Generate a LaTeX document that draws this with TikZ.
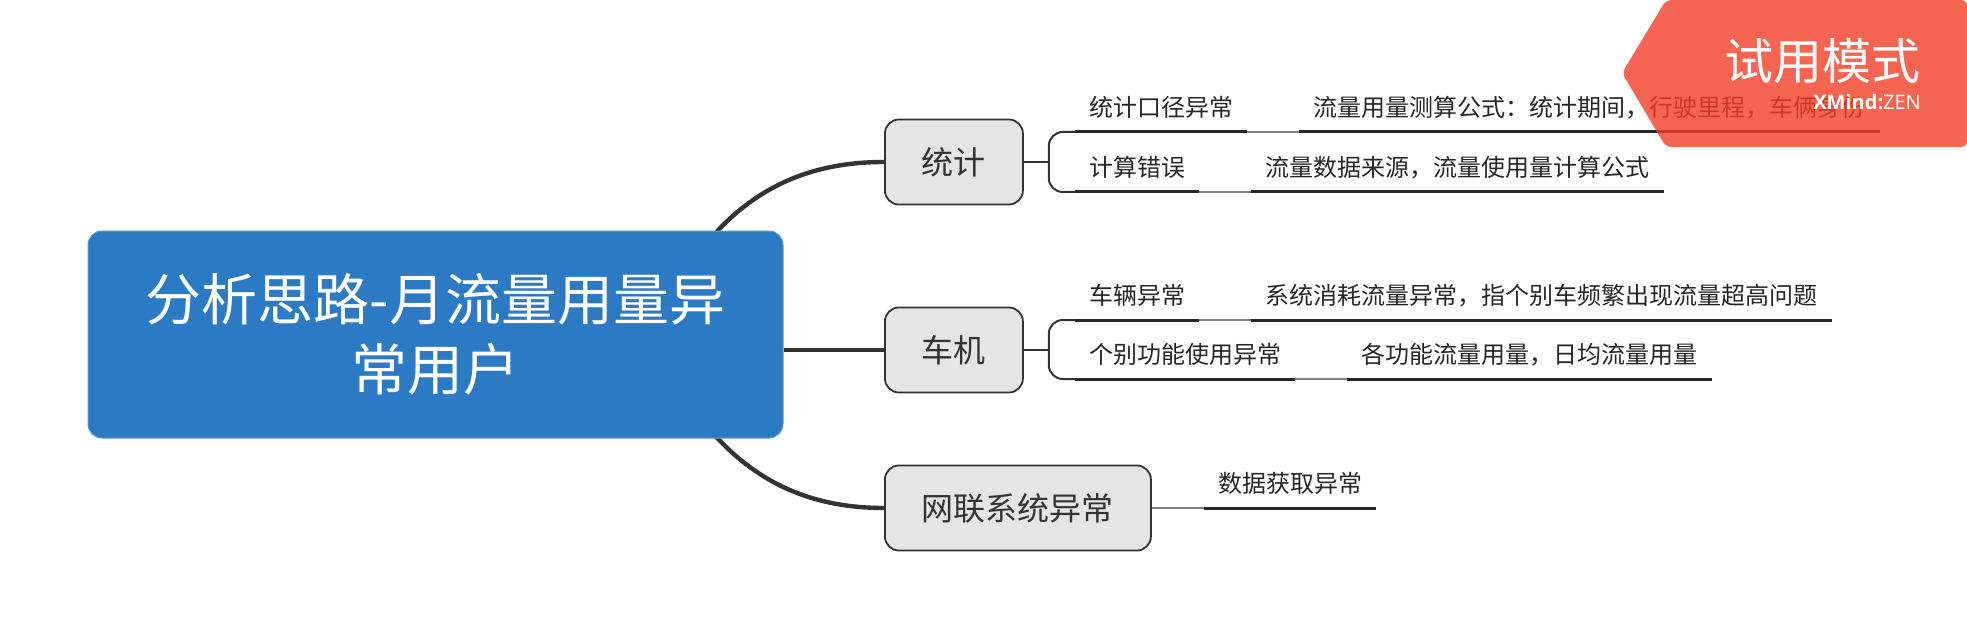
\documentclass[tikz,border=0pt]{standalone}
\usepackage{fontspec}
\setmainfont{Noto Sans CJK SC}
\newfontfamily\badgefont{Open Sans}
\usepackage{xcolor}
\usetikzlibrary{positioning,backgrounds}
\definecolor{rootblue}{HTML}{2C7AC3}
\definecolor{inkdark}{HTML}{333333}
\definecolor{badgered}{HTML}{F33F25}

\begin{document}
\begin{tikzpicture}[
  x=1pt, y=-1pt,
  node distance=52pt and 52pt,
  root/.style={draw=rootblue!75!white, line width=1pt, fill=rootblue, rounded corners=14pt, align=center, minimum width=695pt, minimum height=207pt, font=\fontsize{56}{70}\selectfont, text=white},
  branch/.style={draw=inkdark, line width=1.8pt, fill=gray!20, rounded corners=14pt, minimum height=85pt, inner xsep=37pt, font=\fontsize{32}{38}\selectfont, text=inkdark},
  topic/.style={anchor=south west, inner xsep=14pt, inner ysep=10.5pt, text height=19pt, text depth=5pt, font=\fontsize{24}{28}\selectfont, text=black!85},
  under/.style={line width=3pt, color=black!85},
  thin link/.style={line width=2pt, color=inkdark},
  gap/.style={line width=2pt, color=gray},
  limb/.style={line width=4.4pt, color=inkdark}]
\useasboundingbox (0,0) rectangle (1967,639);
\node[root] (analysis) at (435.5,334.5) {分析思路-月流量用量异\\常用户};
\node[branch, anchor=west] (stats) at (884,162) {统计};
\node[branch, anchor=west] (car) at (884,350) {车机};
\node[branch, anchor=west] (network) at (884,508) {网联系统异常};
\begin{scope}[on background layer]
\draw[limb] (692,262) .. controls (740,195) and (800,162) .. (stats.west);
\draw[limb] (analysis.east |- car.west) -- (car.west);
\draw[limb] (692,407) .. controls (740,474) and (800,508) .. (network.west);
\end{scope}
% first branch
\node[topic] (caliber) at (1075,132) {统计口径异常};
\node[topic, right=52pt of caliber.south east, anchor=south west] (formula) {流量用量测算公式：统计期间，行驶里程，车俩身份};
\node[topic] (mistake) at (1075,192) {计算错误};
\node[topic, right=52pt of mistake.south east, anchor=south west] (source) {流量数据来源，流量使用量计算公式};
\coordinate[right=25pt of stats] (statsfork);
\draw[thin link] (stats) -- (statsfork);
\draw[thin link, rounded corners=14pt] (caliber.south west) -| (statsfork) |- (mistake.south west);
% second branch
\node[topic] (vehicle) at (1075,320) {车辆异常};
\node[topic, right=52pt of vehicle.south east, anchor=south west] (drain) {系统消耗流量异常，指个别车频繁出现流量超高问题};
\node[topic] (feature) at (1075,379) {个别功能使用异常};
\node[topic, right=52pt of feature.south east, anchor=south west] (usage) {各功能流量用量，日均流量用量};
\coordinate[right=25pt of car] (carfork);
\draw[thin link] (car) -- (carfork);
\draw[thin link, rounded corners=14pt] (vehicle.south west) -| (carfork) |- (feature.south west);
% third branch
\node[topic, right=52pt of network.east, anchor=south west] (fetch) {数据获取异常};
\draw[gap] (network) -- (fetch.south west);
\foreach \from/\to in {caliber/formula, mistake/source, vehicle/drain, feature/usage}
  \draw[gap] (\from.south east) -- (\to.south west);
\foreach \item in {caliber, formula, mistake, source, vehicle, drain, feature, usage, fetch}
  \draw[under] (\item.south west) -- (\item.south east);
% trial badge
\fill[badgered, fill opacity=.8, rounded corners=6pt] (1622,73) -- (1666,0) -- (1967,0) -- (1967,147) -- (1666,147) -- cycle;
\node[anchor=east, text=white, font=\fontsize{49}{56}\selectfont, inner sep=0pt] (trial) at (1921,61) {试用模式};
\node[below=10pt of trial.south east, anchor=north east, text=white, font=\badgefont\fontsize{20}{24}\selectfont, inner sep=0pt] (brand) {\textbf{XMind:}ZEN};
\end{tikzpicture}
\end{document}
